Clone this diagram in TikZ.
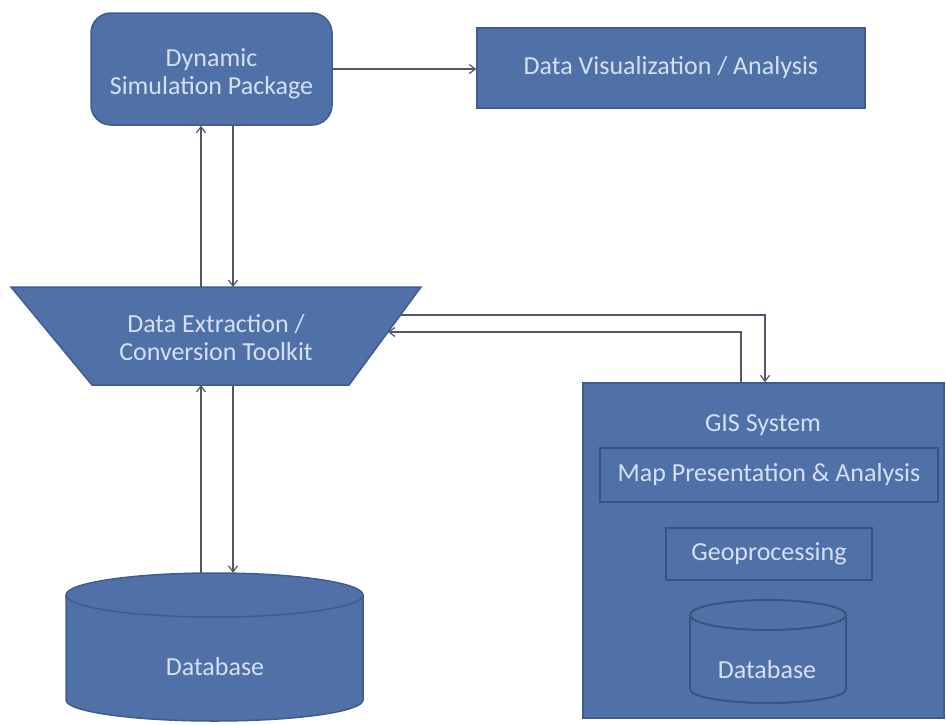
\documentclass[tikz,border=0pt]{standalone}
\usepackage{fontspec}
\setmainfont{Carlito}
\usetikzlibrary{calc,arrows.meta}
\definecolor{boxfill}{RGB}{80,113,168}
\definecolor{boxline}{RGB}{64,92,142}
\definecolor{innerline}{RGB}{58,82,126}
\definecolor{txt}{RGB}{212,224,242}
\definecolor{conn}{RGB}{80,88,104}
\tikzset{
  lbl/.style={text=txt, font=\fontsize{26}{28}\selectfont, align=center, inner sep=0pt},
  box/.style={lbl, fill=boxfill, draw=boxline, line width=1.5pt},
  shapefill/.style={fill=boxfill, draw=boxline, line width=1.5pt},
  innerbox/.style={lbl, draw=innerline, line width=2pt},
  ghost/.style={inner sep=0pt},
  arr/.style={draw=conn, line width=1.2pt, -{Straight Barb[length=6pt,width=9pt]}},
}
\begin{document}
\begin{tikzpicture}[x=1pt,y=-1pt]
\useasboundingbox (0,0) rectangle (946,724);
% top boxes
\node[box, rounded corners=20pt, minimum width=241pt, minimum height=112pt] (dsp) at (211.5,69) {};
\node[lbl] (dspt) at (211.5,74) {Dynamic\\Simulation Package};
\node[box, minimum width=388pt, minimum height=80pt] (dv) at (671,68) {Data Visualization / Analysis};
% trapezoid
\path[shapefill] (11,287) -- (421,287) -- (349,385) -- (92,385) -- cycle;
\coordinate (decTR) at (421,287);
\coordinate (decBR) at (349,385);
\node[lbl] (dec) at (216,338) {Data Extraction /\\Conversion Toolkit};
% big database cylinder
\path[shapefill] (66,595) -- (66,700) arc[start angle=180, end angle=0, x radius=148.5, y radius=21]
  -- (363,595) arc[start angle=0, end angle=-180, x radius=148.5, y radius=22] -- cycle;
\draw[boxline, line width=1.5pt] (66,595) arc[start angle=180, end angle=0, x radius=148.5, y radius=22];
\node[ghost, minimum width=297pt, minimum height=148pt] (db) at (214.5,647) {};
\node[lbl] (dbt) at (215,667) {Database};
% GIS system
\node[box, minimum width=361pt, minimum height=335pt] (gis) at (763.5,550.5) {};
\node[lbl] (gist) at (763,425) {GIS System};
\node[innerbox, minimum width=338pt, minimum height=54pt] (map) at (769,475) {Map Presentation \& Analysis};
\node[innerbox, minimum width=206pt, minimum height=52pt] (geo) at (769,554) {Geoprocessing};
\draw[innerline, line width=2pt] (690,615) -- (690,689) arc[start angle=180, end angle=0, x radius=78, y radius=14]
  -- (846,615) arc[start angle=0, end angle=-180, x radius=78, y radius=15] -- cycle;
\draw[innerline, line width=2pt] (690,615) arc[start angle=180, end angle=0, x radius=78, y radius=15];
\node[ghost, minimum width=156pt, minimum height=103pt] (sdb) at (768,651.5) {};
\node[lbl] (sdbt) at (767,670) {Database};
% connector anchor points
\coordinate (dTop1) at (201,287);
\coordinate (dTop2) at (233,287);
\coordinate (dBot1) at (201,385);
\coordinate (dBot2) at (233,385);
\coordinate (e1) at ($(decTR)!0.2857!(decBR)$);
\coordinate (e2) at ($(decTR)!0.459!(decBR)$);
% connectors
\draw[arr] (dsp.east) -- (dsp.east -| dv.west);
\draw[arr] (dTop1) -- (dTop1 |- dsp.south);
\draw[arr] (dsp.south -| dTop2) -- (dTop2);
\draw[arr] (db.north -| dBot1) -- (dBot1);
\draw[arr] (dBot2) -- (dBot2 |- db.north);
\draw[arr] (e1) -| ([xshift=1.5pt]gis.north);
\draw[arr] ([xshift=-22.5pt]gis.north) |- (e2);
\end{tikzpicture}
\end{document}
